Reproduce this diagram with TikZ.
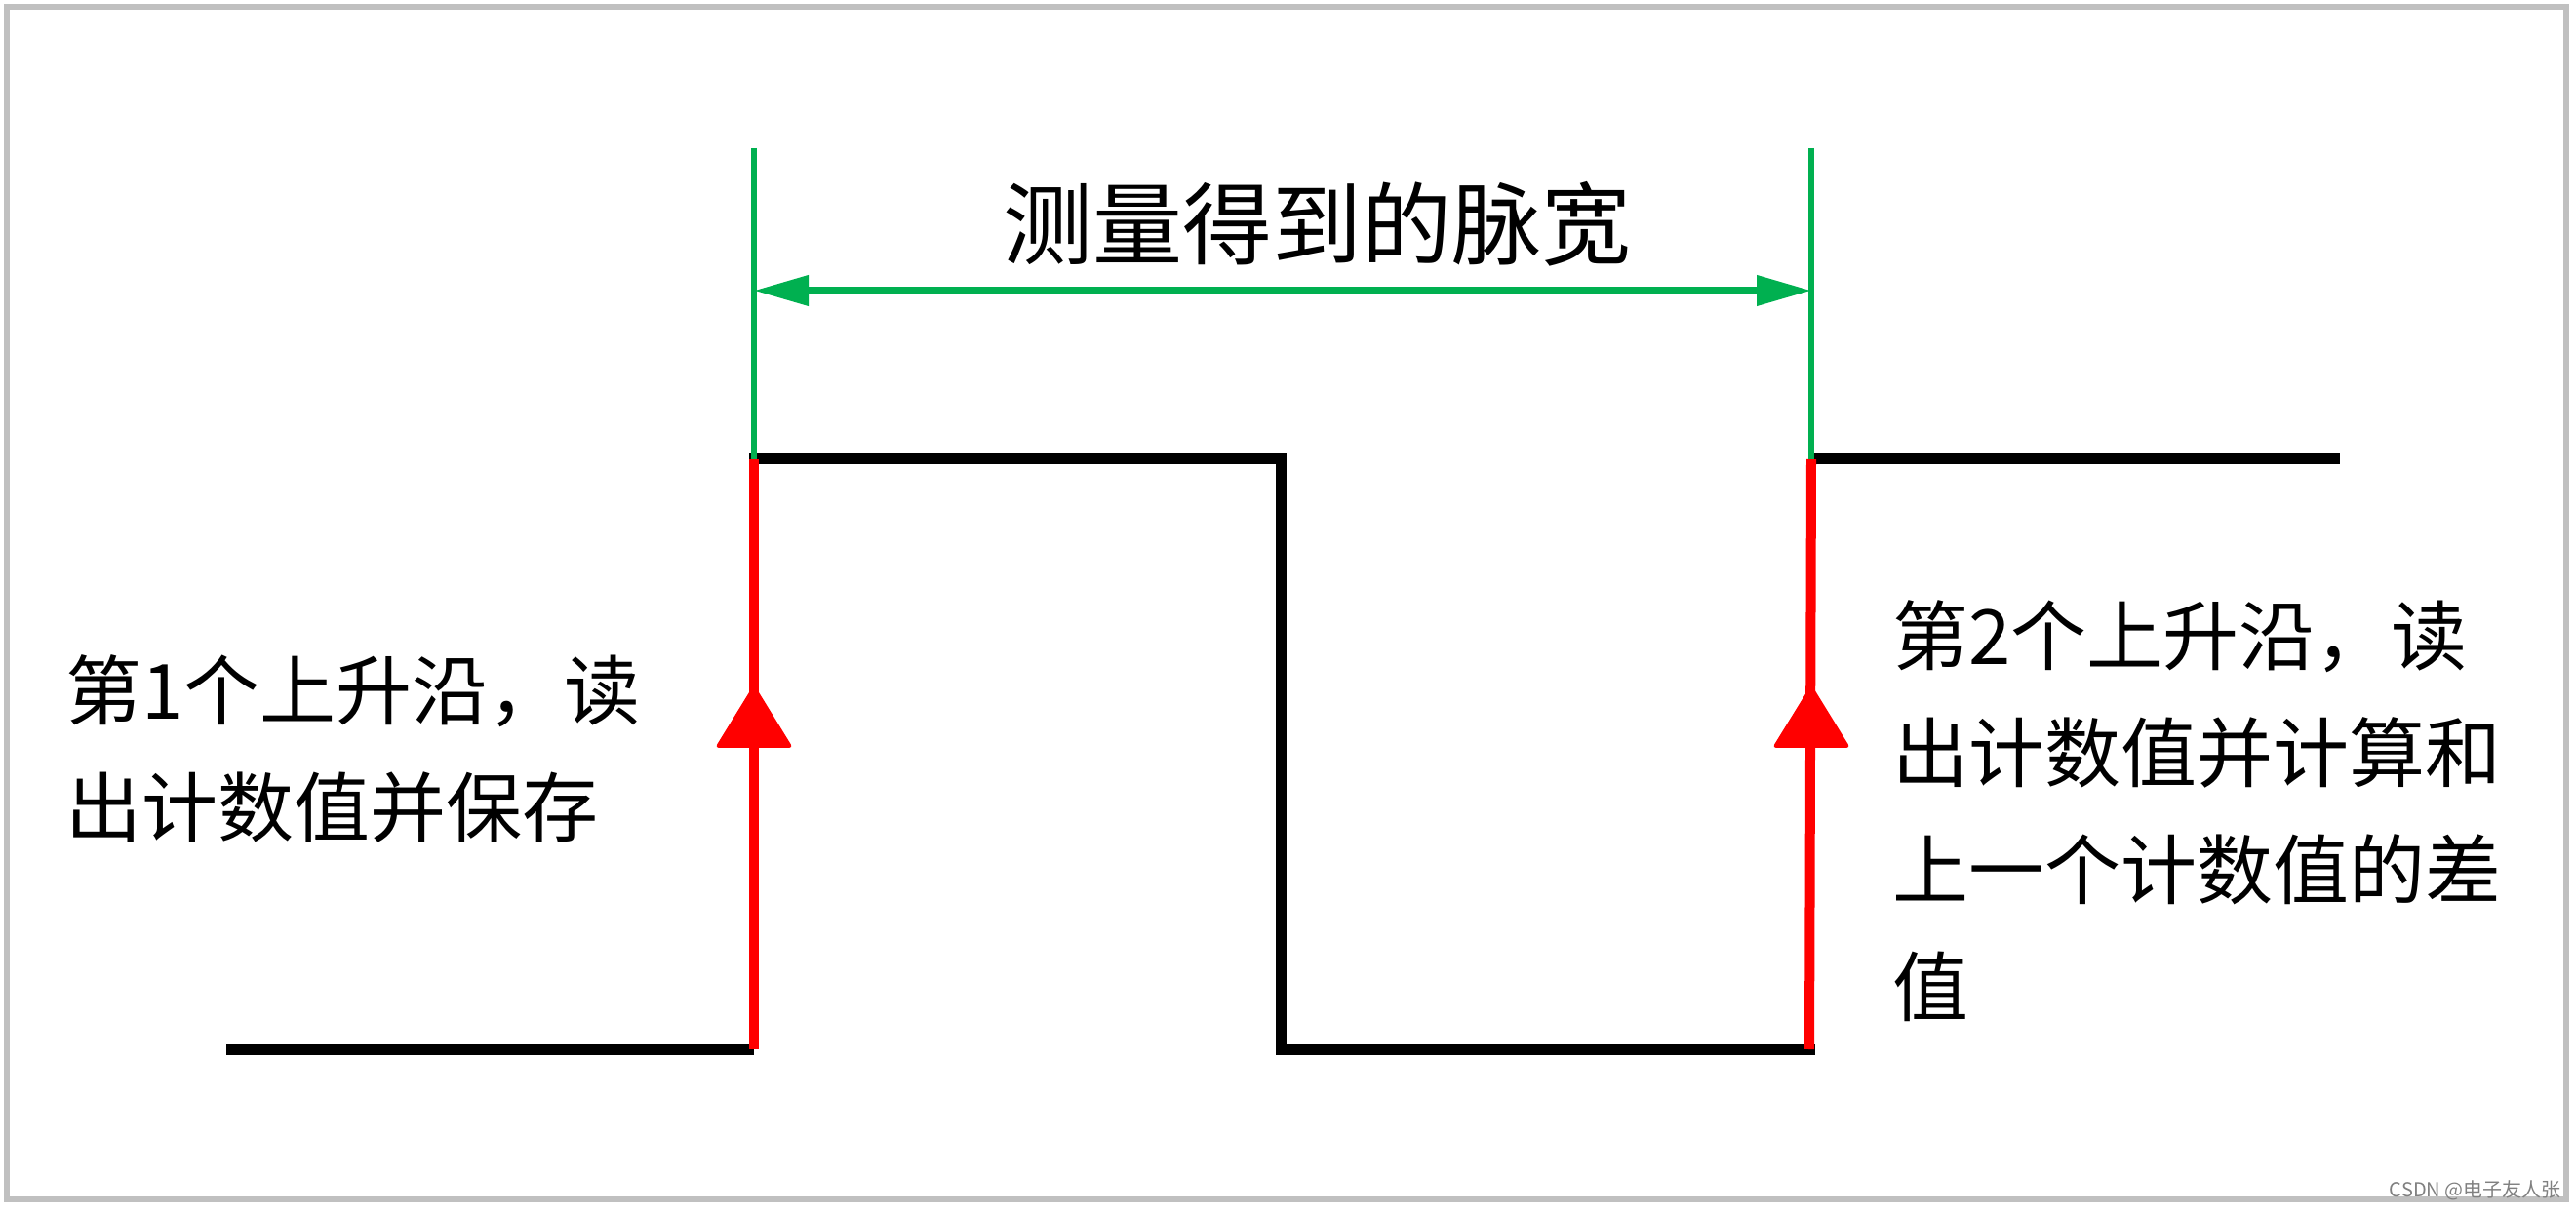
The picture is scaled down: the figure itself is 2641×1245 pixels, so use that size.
\documentclass[tikz,border=0pt]{standalone}
\usepackage{fontspec}
\newfontfamily\cjk{Noto Sans CJK SC}
\usetikzlibrary{arrows.meta}
\definecolor{bordergray}{HTML}{C0C0C0}
\definecolor{dimgreen}{HTML}{00B050}
\definecolor{edgered}{HTML}{FF0000}
\tikzset{
  frame/.style={draw=bordergray, line width=3pt},
  wave/.style={draw=black, line width=5.5pt},
  edge/.style={draw=edgered, line width=5pt},
  guide/.style={draw=dimgreen, line width=2.6pt},
  dimarrow/.style={draw=dimgreen, line width=3.6pt, {Triangle[length=28pt,width=15pt]}-{Triangle[length=28pt,width=15pt]}},
  marker/.style={fill=edgered, rounded corners=2pt},
  label/.style={font=\cjk\fontsize{39}{60}\selectfont, inner sep=0pt, align=left},
  title/.style={font=\cjk\fontsize{46}{55}\selectfont, inner sep=0pt},
  mark text/.style={font=\cjk\fontsize{10}{12}\selectfont, text=gray, inner sep=0pt}
}
\begin{document}
\begin{tikzpicture}[x=0.5pt,y=-0.5pt]
\useasboundingbox (0,0) rectangle (2641,1245);
\draw[frame] (6.5,7) rectangle (2631,1230);

% waveform coordinates
\coordinate (l0) at (232,1076);
\coordinate (r1b) at (773,1076);
\coordinate (r1t) at (773,471);
\coordinate (f1t) at (1313,471);
\coordinate (f1b) at (1313,1076);
\coordinate (r2b) at (1855,1076);
\coordinate (r2t) at (1857,471);
\coordinate (h2) at (2399,471);
\coordinate (g1) at (773,152);
\coordinate (g2) at (1857,152);
\coordinate (a1) at (773,298);
\coordinate (a2) at (1857,298);

% black waveform
\draw[wave] (l0) -- (r1b);
\draw[wave, line cap=rect] (r1t) -- (f1t) -- (f1b) -- (r2b);
\draw[wave] (r2t) -- (h2);

% red rising edges
\draw[edge] (r1b) -- (r1t);
\draw[edge] (r2b) -- (r2t);
\fill[marker] (773,702) -- (813,767) -- (733,767) -- cycle;
\fill[marker] (1857,702) -- (1897,767) -- (1817,767) -- cycle;

% green dimension
\draw[guide] (g1) -- (r1t);
\draw[guide] (g2) -- (r2t);
\draw[dimarrow] (a1) -- (a2);

\node[title] (t) at (1350,230) {测量得到的脉宽};
\node[label, anchor=west] (left) at (67,768) {第1个上升沿，读\\出计数值并保存};
\node[label, anchor=west] (right) at (1940,832) {第2个上升沿，读\\出计数值并计算和\\上一个计数值的差\\值};
\node[mark text, anchor=base east] (wm) at (2626,1227) {CSDN @电子友人张};
\end{tikzpicture}
\end{document}
